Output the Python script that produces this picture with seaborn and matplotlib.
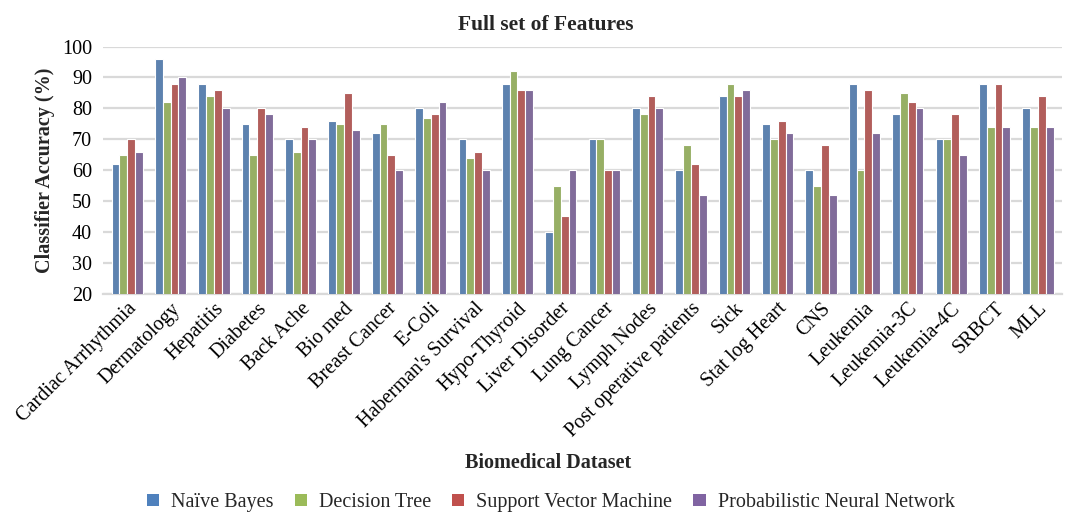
import numpy as np
import pandas as pd
import matplotlib
matplotlib.use("Agg")
import matplotlib.pyplot as plt
import seaborn as sns
from matplotlib.patches import Patch

datasets = ["Cardiac Arrhythmia", "Dermatology", "Hepatitis", "Diabetes", "Back Ache",
            "Bio med", "Breast Cancer", "E-Coli", "Haberman's Survival", "Hypo-Thyroid",
            "Liver Disorder", "Lung Cancer", "Lymph Nodes", "Post operative patients",
            "Sick", "Stat log Heart", "CNS", "Leukemia", "Leukemia-3C", "Leukemia-4C",
            "SRBCT", "MLL"]

naive_bayes   = [62, 96, 88, 75, 70, 76, 72, 80, 70, 88, 40, 70, 80, 60, 84, 75, 60, 88, 78, 70, 88, 80]
decision_tree = [65, 82, 84, 65, 66, 75, 75, 77, 64, 92, 55, 70, 78, 68, 88, 70, 55, 60, 85, 70, 74, 74]
svm           = [70, 88, 86, 80, 74, 85, 65, 78, 66, 86, 45, 60, 84, 62, 84, 76, 68, 86, 82, 78, 88, 84]
pnn           = [66, 90, 80, 78, 70, 73, 60, 82, 60, 86, 60, 60, 80, 52, 86, 72, 52, 72, 80, 65, 74, 74]

classifiers = ["Naïve Bayes", "Decision Tree", "Support Vector Machine", "Probabilistic Neural Network"]
colors = ["#4F81BD", "#9BBB59", "#C0504D", "#8064A2"]

rows = []
for name, vals in zip(classifiers, [naive_bayes, decision_tree, svm, pnn]):
    for d, v in zip(datasets, vals):
        rows.append({"Dataset": d, "Classifier": name, "Accuracy": v})
df = pd.DataFrame(rows)

sns.set_theme(style="white")
plt.rcParams["font.family"] = ["Liberation Serif", "DejaVu Serif"]

fig = plt.figure(figsize=(10.65, 5.17), dpi=100)
ax = fig.add_axes([0.097, 0.432, 0.900, 0.478])

sns.barplot(data=df, x="Dataset", y="Accuracy", hue="Classifier", hue_order=classifiers,
            palette=colors, width=0.72, edgecolor="white", linewidth=0.8,
            errorbar=None, legend=False, ax=ax, zorder=3)

ax.set_ylim(20, 100)
ax.set_yticks(np.arange(20, 101, 10))
ax.set_xlim(-0.55, len(datasets) - 0.45)
ax.yaxis.grid(True, color="#D9D9D9", linewidth=1.6, zorder=0)
ax.set_axisbelow(True)
for s in ["top", "right", "left"]:
    ax.spines[s].set_visible(False)
ax.spines["bottom"].set_color("#D9D9D9")
ax.spines["bottom"].set_linewidth(1.6)
ax.tick_params(axis="x", length=0, labelsize=14.5, colors="black", pad=4)
ax.tick_params(axis="y", length=5, width=1.6, color="#D9D9D9", labelsize=14.5,
               labelcolor="black", pad=3)
plt.setp(ax.get_xticklabels(), rotation=45, ha="right", rotation_mode="anchor")

ax.set_title("Full set of Features", fontsize=15.5, fontweight="bold", pad=12, x=0.462)
ax.set_ylabel("Classifier Accuracy (%)", fontsize=14.5, fontweight="bold", labelpad=5)
ax.set_xlabel("")
fig.text(0.515, 0.105, "Biomedical Dataset", ha="center", va="center",
         fontsize=14.5, fontweight="bold")

handles = [Patch(facecolor=c, edgecolor="none") for c in colors]
fig.legend(handles, classifiers, loc="center", bbox_to_anchor=(0.517, 0.028), ncol=4,
           frameon=False, fontsize=14.5, handlelength=0.6, handleheight=0.6,
           handletextpad=0.6, columnspacing=1.05)

fig.savefig("out.png", dpi=100)
